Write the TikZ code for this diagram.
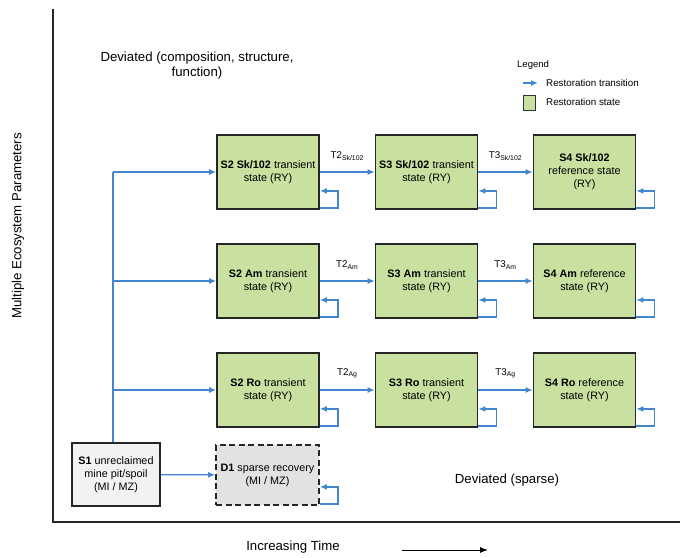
\documentclass[tikz,border=0pt]{standalone}
\usepackage{fontspec}
\setmainfont{Liberation Sans}
\usetikzlibrary{arrows.meta}
\definecolor{tblue}{RGB}{66,135,205}
\definecolor{sgreen}{RGB}{200,224,160}
\definecolor{dgray}{RGB}{226,226,226}
\definecolor{sgray}{RGB}{242,242,242}
\begin{document}
\begin{tikzpicture}[x=1pt,y=-1pt,
  statebox/.style={draw=black!85,line width=1.8pt,fill=sgreen,minimum width=102pt,minimum height=74pt,inner sep=0pt,align=center,font=\fontsize{10.8}{13}\selectfont},
  tr/.style={draw=tblue,line width=1.2pt,-{Latex[length=7pt,width=6pt]}},
  lp/.style={draw=tblue,line width=1.2pt},
  tlab/.style={font=\fontsize{9.8}{11}\selectfont,above=10pt,inner sep=1pt}]
\useasboundingbox (0,0) rectangle (680,557);
% axes
\draw[line width=1.8pt,black!85] (53,9) -- (53,522) -- (680,522);
\node[rotate=90,font=\fontsize{13.2}{15}\selectfont] (yl) at (18,226) {Multiple Ecosystem Parameters};
\node[font=\fontsize{13.2}{15}\selectfont] (xl) at (293,547) {Increasing Time};
\coordinate (xa1) at (402,550);
\coordinate (xa2) at (488,550);
\draw[line width=1pt,-{Latex[length=8pt,width=6pt]}] (xa1) -- (xa2);
\node[align=center,font=\fontsize{13.2}{15}\selectfont] (dev) at (197,66) {Deviated (composition, structure,\\function)};
\node[font=\fontsize{13.2}{15}\selectfont] (devs) at (507,480) {Deviated (sparse)};
% legend
\node[anchor=west,font=\fontsize{9.5}{11}\selectfont,inner sep=0] (leg) at (517,65) {Legend};
\coordinate (la1) at (523,83);
\coordinate (la2) at (538,83);
\draw[tr,line width=1.5pt] (la1) -- (la2);
\node[draw=black!80,line width=0.8pt,fill=sgreen,minimum width=12pt,minimum height=15pt,inner sep=0] (legb) at (529,103) {};
\node[anchor=west,font=\fontsize{9.8}{11}\selectfont,inner sep=0] (legt) at (546,83) {Restoration transition};
\node[anchor=west,font=\fontsize{9.8}{11}\selectfont,inner sep=0] (legs) at (546,102) {Restoration state};
% states
\node[statebox] (S2a) at (268,172) {\textbf{S2 Sk/102} transient\\state (RY)};
\node[statebox] (S3a) at (426.5,172) {\textbf{S3 Sk/102} transient\\state (RY)};
\node[statebox] (S4a) at (584.5,172) {\textbf{S4 Sk/102}\\reference state\\(RY)};
\node[statebox] (S2b) at (268,281) {\textbf{S2 Am} transient\\state (RY)};
\node[statebox] (S3b) at (426.5,281) {\textbf{S3 Am} transient\\state (RY)};
\node[statebox] (S4b) at (584.5,281) {\textbf{S4 Am} reference\\state (RY)};
\node[statebox] (S2c) at (268,390) {\textbf{S2 Ro} transient\\state (RY)};
\node[statebox] (S3c) at (426.5,390) {\textbf{S3 Ro} transient\\state (RY)};
\node[statebox] (S4c) at (584.5,390) {\textbf{S4 Ro} reference\\state (RY)};
\node[draw=black!85,line width=1.8pt,fill=sgray,minimum width=88pt,minimum height=63pt,inner sep=1pt,align=center,font=\fontsize{10.8}{13}\selectfont] (S1) at (116,474.5) {\textbf{S1} unreclaimed\\mine pit/spoil\\(MI / MZ)};
\node[draw=black!85,line width=1.8pt,dash pattern=on 6pt off 3.5pt,fill=dgray,minimum width=103pt,minimum height=60pt,inner sep=0pt,align=center,font=\fontsize{10.8}{13}\selectfont] (D1) at (267.5,475) {\textbf{D1} sparse recovery\\(MI / MZ)};
% trunk
\draw[lp] ([xshift=-3pt]S1.north) -- ([xshift=-3pt]S1.north |- S2a.west);
\draw[tr] ([xshift=-3pt]S1.north |- S2a.west) -- (S2a.west);
\draw[tr] ([xshift=-3pt]S1.north |- S2b.west) -- (S2b.west);
\draw[tr] ([xshift=-3pt]S1.north |- S2c.west) -- (S2c.west);
\draw[tr] (S1) -- (D1);
% transitions
\draw[tr] (S2a) -- node[tlab] (t2a) {T2\textsubscript{Sk/102}} (S3a);
\draw[tr] (S3a) -- node[tlab] (t3a) {T3\textsubscript{Sk/102}} (S4a);
\draw[tr] (S2b) -- node[tlab] (t2b) {T2\textsubscript{Am}} (S3b);
\draw[tr] (S3b) -- node[tlab] (t3b) {T3\textsubscript{Am}} (S4b);
\draw[tr] (S2c) -- node[tlab] (t2c) {T2\textsubscript{Ag}} (S3c);
\draw[tr] (S3c) -- node[tlab] (t3c) {T3\textsubscript{Ag}} (S4c);
% self loops
\foreach \n in {S2a,S3a,S4a,S2b,S3b,S4b,S2c,S3c,S4c,D1}{
  \draw[tr] ([yshift=2pt]\n.south east) -- ++(18pt,0pt) |- ([yshift=19pt]\n.south east);
}
\end{tikzpicture}
\end{document}
